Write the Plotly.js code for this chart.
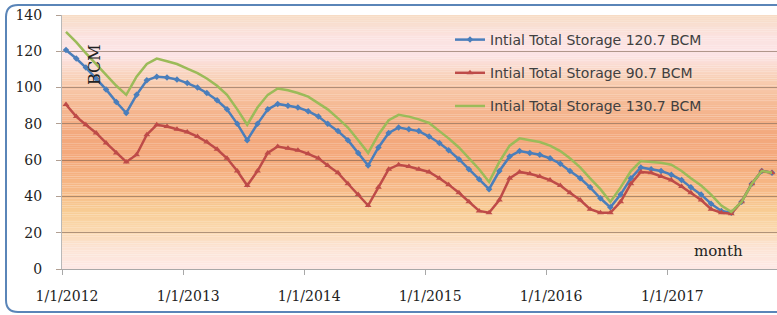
<!DOCTYPE html>
<html>
<head>
<meta charset="utf-8">
<script src="https://cdn.plot.ly/plotly-3.0.1.min.js"></script>
<style>
html,body{margin:0;padding:0;background:#ffffff;}
#chart{width:777px;height:315px;}
</style>
</head>
<body>
<div id="chart"></div>
<script>
// ---- data (monthly, Jan 2012 .. Nov 2017) ----
const startYear = 2012;
const monthCount = 71;
const storage120 = [120.7,116,111,105,99,92,86,96,104,106,105.5,104.5,
  102.5,100,97,93,88,80,71,80,88,91,90,89,
  87,84,80,76,71,64,57,67,75,78,77,76,
  73,69.5,65.5,60.5,55,49.5,44,54,62,65,64,63,
  61,58,54,50,45,39,34,41,50,56,55,54,
  52,49,45,41,36,32,31,37,47,54,53];
const storage90 = [90.7,84,79.5,75,69.5,64,59,63,74,79.5,78.5,77,
  75.5,73,70,66,61,54,46,54,64,67.5,66.5,65.5,
  63.5,61,57,53,47,41,35,45,55,57.5,56.5,55,
  53.5,50,46.5,42,37,32,31,38,50,53.5,52.5,51,
  49,46,42,38,33,31,31,37,47,53.5,53,51,
  49,45.5,42,38,33,31,30.5,37,47,54,53];
const storage130 = [130.7,125,119,113,107,101,96,106,113,116,114.5,113,
  110.5,108,105,101,96,88,79.5,89,96,99.5,98.5,97,
  95,91.5,88,83,78,71,64,74,82,85,84,82.5,
  80.5,76,72,67,61,55,48,59,68,72,71,70,
  68,65,61,56,50,44,37,45,54,59.5,59,58.5,
  57.5,54,50,46,41,35,31.5,37,47,54,53];
const seriesNames = ['Intial Total Storage 120.7 BCM','Intial Total Storage 90.7 BCM','Intial Total Storage 130.7 BCM'];
const tickDates = ['2012-01-01','2013-01-01','2014-01-01','2015-01-01','2016-01-01','2017-01-01'];
const tickLabels = ['1/1/2012','1/1/2013','1/1/2014','1/1/2015','1/1/2016','1/1/2017'];
const yTicks = [0,20,40,60,80,100,120,140];

// month dates (plotted mid-month like the original)
const months = [];
for (let i = 0; i < monthCount; i++) {
  const y = startYear + Math.floor(i / 12);
  const m = (i % 12) + 1;
  months.push(y + '-' + String(m).padStart(2, '0') + '-13');
}

// ---- geometry helpers (plot area: l=62, t=15, w=715, h=254) ----
const ML = 62, MT = 15, MB = 46, W = 777, H = 315;
const PW = W - ML, PH = H - MT - MB;
const px = x => (x - ML) / PW;
const py = y => (H - MB - y) / PH;

// background gradient bands
const stops = [[140,'#f7dcc4'],[128,'#fbe2e0'],[118,'#fce4e6'],[105,'#f8cfb4'],[90,'#f5b993'],
  [75,'#f3a97e'],[60,'#f4a97b'],[45,'#f6b886'],[32,'#f8cc94'],[22,'#fad8ae'],[12,'#fce3d3'],[0,'#fde9e6']];
function hex(c){return [parseInt(c.substr(1,2),16),parseInt(c.substr(3,2),16),parseInt(c.substr(5,2),16)];}
function colorAt(v){
  for (let i=0;i<stops.length-1;i++){
    const a=stops[i], b=stops[i+1];
    if (v<=a[0] && v>=b[0]){
      const t=(a[0]-v)/(a[0]-b[0]);
      const ca=hex(a[1]), cb=hex(b[1]);
      const c=ca.map((q,k)=>Math.round(q+(cb[k]-q)*t));
      return 'rgb('+c.join(',')+')';
    }
  }
  return stops[stops.length-1][1];
}
const shapes = [];
for (let v = 0; v < 140; v += 1) {
  shapes.push({type:'rect', xref:'paper', yref:'y', x0:0, x1:1, y0:v, y1:v+1.05,
    fillcolor: colorAt(v+0.5), line:{width:0}, layer:'below'});
}
// rounded chart border
(function(){
  const L=6, T=5, B=312, R=800, r=12;
  const rx=r/PW, ry=r/PH;
  const l=px(L), t=py(T), b=py(B), rr=px(R);
  const path = 'M '+rr+' '+t+' L '+(l+rx)+' '+t+' Q '+l+' '+t+' '+l+' '+(t-ry)+
    ' L '+l+' '+(b+ry)+' Q '+l+' '+b+' '+(l+rx)+' '+b+' L '+rr+' '+b;
  shapes.push({type:'path', xref:'paper', yref:'paper', path:path,
    line:{color:'#5a85b8', width:2}, layer:'above'});
})();

const traces = [
  {x: months, y: storage120, name: seriesNames[0], type:'scatter', mode:'lines+markers',
   legendgroup:'a',
   line:{color:'#4a7ebb', width:2.5}, marker:{symbol:'diamond', size:5, color:'#4a7ebb'}},
  {x: months, y: storage90, name: seriesNames[1], type:'scatter', mode:'lines+markers',
   legendgroup:'b',
   line:{color:'#be4b48', width:2.5}, marker:{symbol:'triangle-up', size:6, color:'#be4b48'}},
  {x: months, y: storage130, name: seriesNames[2], type:'scatter', mode:'lines',
   legendgroup:'c',
   line:{color:'#9bbb59', width:2.5}}
];

const axisFont = {family:'DejaVu Serif', size:14, color:'#222222'};
const layout = {
  width: W, height: H,
  margin: {l: ML, r: 0, t: MT, b: MB, pad: 0},
  paper_bgcolor: '#ffffff',
  plot_bgcolor: 'rgba(0,0,0,0)',
  showlegend: true,
  legend: {x: px(450), y: py(24), xanchor:'left', yanchor:'top',
    bgcolor:'rgba(0,0,0,0)', borderwidth:0, tracegroupgap: 12,
    font:{family:'DejaVu Sans', size:14, color:'#404040'}},
  xaxis: {type:'date', range:['2012-01-01','2017-11-28'],
    tickvals: tickDates, ticktext: tickLabels, tickfont: axisFont,
    showgrid:false, zeroline:false, showline:true, linecolor:'#a8a8a8', linewidth:1,
    ticks:'outside', ticklen:5, tickcolor:'#a8a8a8', ticklabelstandoff: 9, ticklabelshift: 5},
  yaxis: {range:[0,140], tickvals: yTicks, tickfont: axisFont,
    showgrid:true, gridcolor:'rgba(125,95,75,0.6)', gridwidth:1,
    zeroline:false, showline:true, linecolor:'#b8b8b8', linewidth:1,
    ticks:'outside', ticklen:5, tickcolor:'rgba(125,95,75,0.6)', ticklabelstandoff: 11},
  shapes: shapes,
  annotations: [
    {text:'BCM', xref:'paper', yref:'paper', x: px(83), y: py(42), showarrow:false,
     textangle:-90, font:{family:'DejaVu Serif', size:16, color:'#222222'}},
    {text:'month', xref:'paper', yref:'paper', x: px(745), y: py(262), showarrow:false,
     font:{family:'DejaVu Serif', size:15, color:'#222222'}}
  ]
};

Plotly.newPlot('chart', traces, layout, {staticPlot:true, displayModeBar:false});
</script>
</body>
</html>
